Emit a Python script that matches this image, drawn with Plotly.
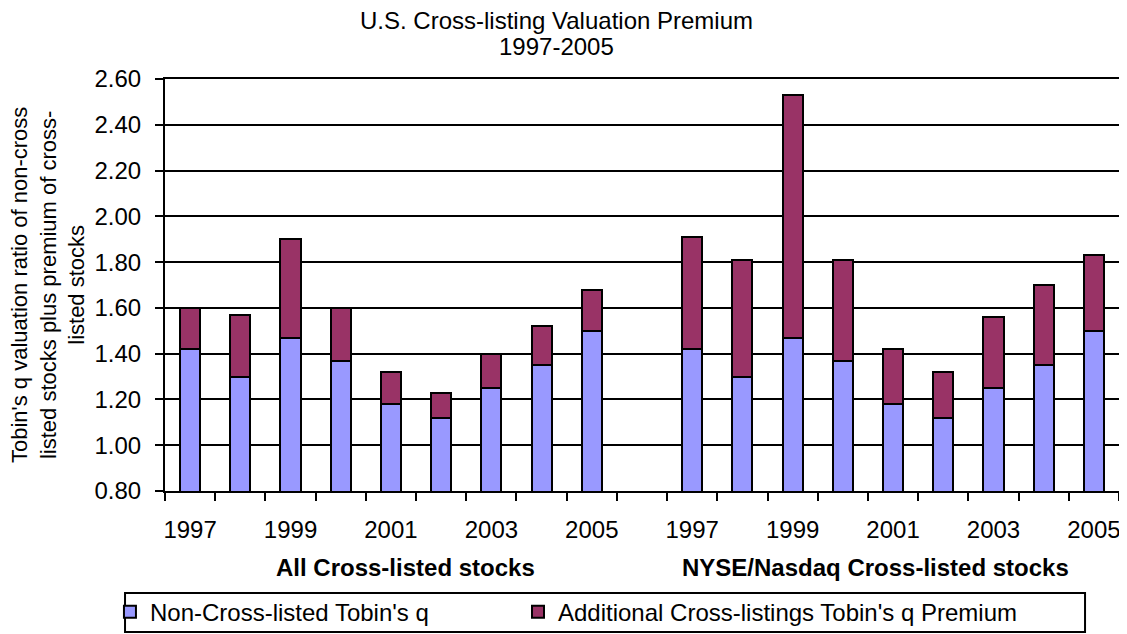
import plotly.graph_objects as go

years = ["1997", "1998", "1999", "2000", "2001", "2002", "2003", "2004", "2005"]
groups = ["All Cross-listed stocks", "NYSE/Nasdaq Cross-listed stocks"]
non_cross_q = [1.42, 1.30, 1.47, 1.37, 1.18, 1.12, 1.25, 1.35, 1.50]
total_all = [1.60, 1.57, 1.90, 1.60, 1.32, 1.23, 1.40, 1.52, 1.68]
total_nyse = [1.91, 1.81, 2.53, 1.81, 1.42, 1.32, 1.56, 1.70, 1.83]
y_ticks = [0.80, 1.00, 1.20, 1.40, 1.60, 1.80, 2.00, 2.20, 2.40, 2.60]
series_names = ["Non-Cross-listed Tobin's q", "Additional Cross-listings Tobin's q Premium"]
title_lines = ["U.S. Cross-listing Valuation Premium", "1997-2005"]
y_title = "Tobin's q valuation ratio of non-cross<br>listed stocks plus premium of cross-<br>listed stocks"

labels = years + [""] + years
xpos = list(range(len(labels)))
base_vals = non_cross_q + [None] + non_cross_q
prem_vals = [round(t - b, 2) for t, b in zip(total_all, non_cross_q)] + [None] + \
            [round(t - b, 2) for t, b in zip(total_nyse, non_cross_q)]

FONT = "Liberation Sans, Arial, sans-serif"
FS = 24

fig = go.Figure()
fig.add_trace(go.Bar(x=xpos, y=base_vals, name=series_names[0], width=0.4, legend="legend",
                     marker=dict(color="#9999FF", line=dict(color="black", width=2))))
fig.add_trace(go.Bar(x=xpos, y=prem_vals, name=series_names[1], width=0.4, legend="legend2",
                     marker=dict(color="#993366", line=dict(color="black", width=2))))

label_idx = [i for i in xpos if labels[i] and (int(labels[i]) - 1997) % 2 == 0]

leg_common = dict(orientation="h", yanchor="middle", y=-0.294, xanchor="left",
                  bgcolor="rgba(0,0,0,0)", borderwidth=0,
                  font=dict(family=FONT, size=FS, color="black"))

fig.update_layout(
    barmode="stack",
    width=1119, height=626,
    margin=dict(l=157, r=8, t=71, b=143, autoexpand=False),
    paper_bgcolor="white", plot_bgcolor="white",
    font=dict(family=FONT, size=FS, color="black"),
    showlegend=True,
    legend=dict(x=-0.0577, **leg_common),
    legend2=dict(x=0.370, **leg_common),
    xaxis=dict(range=[-0.5, len(labels) - 0.5], tickvals=label_idx,
               ticktext=[labels[i] for i in label_idx], ticks="",
               showline=True, linecolor="black", linewidth=2, mirror=True,
               showgrid=False, zeroline=False, automargin=False,
               ticklabelstandoff=16,
               minor=dict(tickvals=[i - 0.5 for i in range(len(labels) + 1)],
                          ticks="outside", ticklen=8, tickcolor="black", tickwidth=2,
                          showgrid=False),
               tickfont=dict(family=FONT, size=FS)),
    yaxis=dict(range=[y_ticks[0], y_ticks[-1]], tickvals=y_ticks,
               ticktext=[f"{v:.2f}" for v in y_ticks],
               ticks="outside", ticklen=8, tickcolor="black", tickwidth=2,
               showline=True, linecolor="black", linewidth=2, mirror=True,
               showgrid=True, gridcolor="black", gridwidth=1.5, zeroline=False,
               automargin=False, ticklabelstandoff=9,
               tickfont=dict(family=FONT, size=FS)),
)

# chart title (two lines)
fig.add_annotation(x=0.4099, y=1.1408, xref="paper", yref="paper", text=title_lines[0],
                   showarrow=False, font=dict(family=FONT, size=FS, color="black"),
                   xanchor="center", yanchor="middle")
fig.add_annotation(x=0.4099, y=1.078, xref="paper", yref="paper", text=title_lines[1],
                   showarrow=False, font=dict(family=FONT, size=FS, color="black"),
                   xanchor="center", yanchor="middle")

# y-axis title
fig.add_annotation(x=-0.1226, y=0.5, xref="paper", yref="paper", text=y_title,
                   textangle=-90, showarrow=False, align="center",
                   font=dict(family=FONT, size=22, color="black"),
                   xanchor="center", yanchor="middle")

# group labels
fig.add_annotation(x=4.28, y=-0.185, xref="x", yref="paper", text="<b>" + groups[0] + "</b>",
                   showarrow=False, font=dict(family=FONT, size=FS, color="black"),
                   xanchor="center", yanchor="middle")
fig.add_annotation(x=13.66, y=-0.185, xref="x", yref="paper", text="<b>" + groups[1] + "</b>",
                   showarrow=False, font=dict(family=FONT, size=FS, color="black"),
                   xanchor="center", yanchor="middle")

# legend frame
fig.add_shape(type="rect", xref="paper", yref="paper",
              x0=-0.0419, x1=0.9644, y0=-0.342, y1=-0.2476,
              line=dict(color="black", width=2), fillcolor="rgba(0,0,0,0)", layer="below")

fig.write_html("out.html")
